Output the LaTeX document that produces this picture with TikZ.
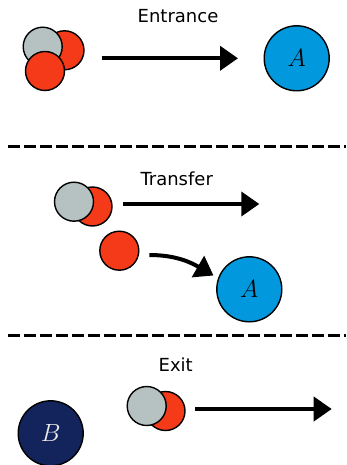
\documentclass[tikz,border=0pt]{standalone}
\usepackage{fontspec}
\newfontfamily\labelfont{DejaVu Sans}
\usetikzlibrary{arrows.meta}
\definecolor{atomred}{RGB}{244,58,24}
\definecolor{atomgrey}{RGB}{182,194,194}
\definecolor{siteblue}{RGB}{2,152,222}
\definecolor{sitenavy}{RGB}{19,36,92}
\begin{document}
\begin{tikzpicture}[x=1pt,y=-1pt,
  atom/.style={circle,draw=black,line width=1.4pt,minimum size=39pt,inner sep=0pt},
  redatom/.style={atom,fill=atomred},
  greyatom/.style={atom,fill=atomgrey},
  site/.style={circle,draw=black,line width=1.4pt,minimum size=65pt,inner sep=0pt,font=\fontsize{26}{28}\selectfont},
  move/.style={line width=4pt,-{Triangle[length=18pt,width=24pt]}},
  sep/.style={line width=3.4pt,dash pattern=on 11.7pt off 4.3pt},
  lbl/.style={font=\labelfont\fontsize{18}{20}\selectfont}]
\useasboundingbox (0,0) rectangle (346,465);
% Section 1
\node[lbl] (t1) at (178,16) {Entrance};
\node[redatom] (r1b) at (64.5,50.3) {};
\node[greyatom] (g1) at (42.7,46.7) {};
\node[redatom] (r1f) at (45,71) {};
\coordinate (a1s) at (101.7,58.3);
\coordinate (a1e) at (238,58.3);
\draw[move] (a1s) -- (a1e);
\node[site,fill=siteblue] (A1) at (296.7,58.3) {$A$};
% separator 1
\coordinate (d1s) at (8.3,146.3);
\coordinate (d1e) at (346,146.3);
\draw[sep] (d1s) -- (d1e);
% Section 2
\node[lbl] (t2) at (176.7,178.3) {Transfer};
\node[redatom] (r2b) at (92.5,206.5) {};
\node[greyatom] (g2) at (74,201.7) {};
\coordinate (a2s) at (122.7,204);
\coordinate (a2e) at (259.3,204);
\draw[move] (a2s) -- (a2e);
\node[redatom] (r2) at (119.3,250.7) {};
\coordinate (c2s) at (149.3,255);
\coordinate (c2e) at (213.5,275.5);
\draw[move] (c2s) to[out=0,in=150] (c2e);
\node[site,fill=siteblue] (A2) at (249.3,289.3) {$A$};
% separator 2
\coordinate (d2s) at (8.3,335.3);
\coordinate (d2e) at (346,335.3);
\draw[sep] (d2s) -- (d2e);
% Section 3
\node[lbl] (t3) at (175.7,365) {Exit};
\node[redatom] (r3b) at (165.5,411) {};
\node[greyatom] (g3) at (146.7,406) {};
\coordinate (a3s) at (195,409);
\coordinate (a3e) at (331.7,409);
\draw[move] (a3s) -- (a3e);
\node[site,fill=sitenavy,text=white!92!black] (B) at (50.7,433.3) {$B$};
\end{tikzpicture}
\end{document}
